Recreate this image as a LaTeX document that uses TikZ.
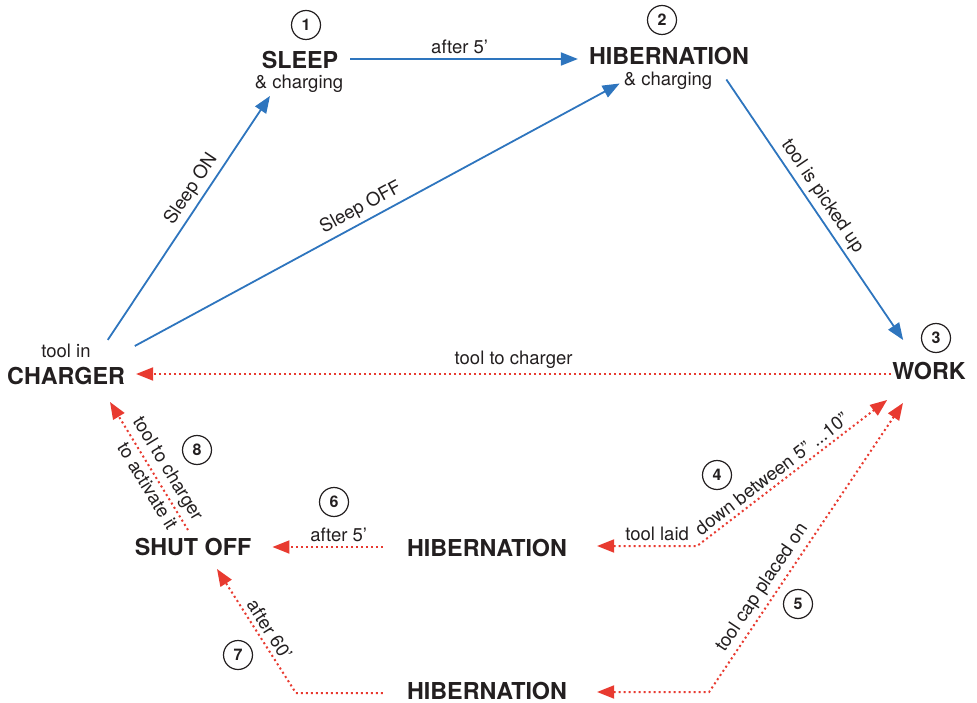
\documentclass[tikz,border=0pt]{standalone}
\usepackage{fontspec}
\setmainfont{TeX Gyre Heros}
\usetikzlibrary{arrows.meta,calc}
\definecolor{flowblue}{RGB}{46,117,190}
\definecolor{flowred}{RGB}{232,58,48}
\definecolor{ink}{RGB}{35,31,32}
\newcommand{\statefont}{\fontsize{23.3}{28}\selectfont\bfseries}
\newcommand{\notefont}{\fontsize{18.5}{22}\selectfont}

\begin{document}
\begin{tikzpicture}[x=1pt, y=-1pt, >={Triangle[length=17pt,width=13pt]},
  state/.style={inner sep=0pt, text=ink, font=\statefont},
  note/.style={inner sep=0pt, text=ink, font=\notefont},
  num/.style={circle, draw=ink, line width=1.2pt, minimum size=29pt, inner sep=0pt,
    text=ink, font=\fontsize{16}{18}\selectfont\bfseries},
  lbl/.style={inner sep=4pt, text=ink, font=\notefont},
  solidflow/.style={flowblue, line width=1.8pt},
  dotflow/.style={flowred, line width=2pt, dash pattern=on 2pt off 3pt}]
  \useasboundingbox (0,0) rectangle (977,703);

  \node [num] (N1) at (306, 25) {1};
  \node [state] (SL) at (300, 60) {SLEEP};
  \node [note] (SLc) at (299, 84) {\& charging};
  \node [num] (N2) at (662, 20) {2};
  \node [state] (HT) at (669, 56) {HIBERNATION};
  \node [note] (HTc) at (668, 80.5) {\& charging};
  \node [num] (N3) at (936, 338) {3};
  \node [state] (WK) at (929, 371) {WORK};
  \node [note] (CHi) at (66, 351) {tool in};
  \node [state] (CH) at (66, 376) {CHARGER};
  \node [state] (SO) at (193, 547) {SHUT OFF};
  \node [state] (HM) at (487, 548) {HIBERNATION};
  \node [state] (HB) at (487, 691) {HIBERNATION};
  \node [num] (N4) at (717, 475) {4};
  \node [num] (N5) at (798, 604) {5};
  \node [num] (N6) at (334, 502) {6};
  \node [num] (N7) at (238, 655) {7};
  \node [num] (N8) at (197, 450) {8};

  \draw [solidflow,->] ($(SL.east)+(12,-1)$) -- node [lbl, above, pos=0.48] {after 5’} ($(HT.west)+(-11,3)$);
  \draw [solidflow,->] ($(CHi.north east)+(17,-4)$) -- node [lbl, above, sloped, pos=0.585] {Sleep ON} ($(SLc.south)+(-29,3)$);
  \draw [solidflow,->] ($(CHi.east)+(44,-5)$) -- node [lbl, above, sloped, pos=0.48] {Sleep OFF} ($(HTc.west)+(-4,3)$);
  \draw [solidflow,->] ($(HTc.east)+(14,-1)$) -- node [lbl, above, sloped, pos=0.478] {tool is picked up} ($(WK.north west)+(11,-22)$);

  \draw [dotflow,->] ($(WK.west)+(-1,3)$) -- node [lbl, above] {tool to charger} ($(CH.east)+(11,-2)$);
  \draw [dotflow,<->] ($(HM.east)+(30,-2)$) -- node [lbl, above, pos=0.6] {tool laid} ++(100,0)
    -- node [lbl, above, sloped, pos=0.43] {down between 5” ...10”} ($(WK.south west)+(-5,20)$);
  \draw [dotflow,<->] ($(HB.east)+(30,1)$) -- ++(112,0)
    -- node [lbl, above, sloped, pos=0.334] {tool cap placed on} ($(WK.south)+(-26,23)$);
  \draw [dotflow,->] ($(HM.west)+(-24,-1)$) -- node [lbl, above, pos=0.4] {after 5’} ($(SO.east)+(21,0)$);
  \draw [dotflow,->] ($(HB.west)+(-24,2)$) -- ++(-87,0)
    -- node [lbl, above, sloped, pos=0.46] {after 60’} ($(SO.south)+(24,13)$);
  \draw [dotflow,->] ($(SO.north)+(-5,-8)$) -- node [lbl, above, sloped, pos=0.42] {tool to charger}
    node [lbl, below, sloped, pos=0.39] {to activate it} ($(CH.south)+(44,17)$);
\end{tikzpicture}
\end{document}
